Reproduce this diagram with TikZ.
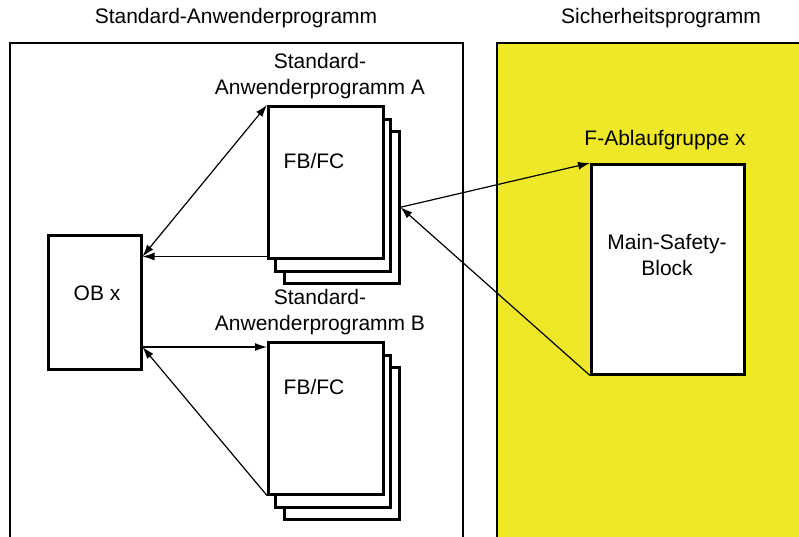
\documentclass[tikz,border=0pt]{standalone}
\usepackage{fontspec}
\setmainfont{Liberation Sans}
\usetikzlibrary{arrows.meta,calc}
\definecolor{sYellow}{RGB}{238,232,40}
\tikzset{
    page/.style={draw, line width=2.5pt, fill=white, inner sep=0pt, anchor=north west,
                 minimum width=115pt, minimum height=152pt},
    blk/.style={draw, line width=2.5pt, fill=white, inner sep=0pt, anchor=north west},
    lbl/.style={align=center, inner sep=0pt},
    conn/.style={line width=1.2pt, -{Latex[length=12pt,width=8pt]}},
    conn2/.style={line width=1.2pt, {Latex[length=12pt,width=8pt]}-{Latex[length=12pt,width=8pt]}}
}

\begin{document}
\begin{tikzpicture}[x=1pt,y=-1pt,font=\fontsize{21}{26}\selectfont]
\useasboundingbox (0,0) rectangle (799,536);
\clip (0,0) rectangle (799,536);
% the two programme areas
\fill[white] (0,0) rectangle (799,536);
\draw[line width=2.5pt] (10,43) rectangle (463,560);
\filldraw[fill=sYellow, line width=2.5pt] (497,43) rectangle (830,560);
\node[lbl] (ttlStd) at (236,18) {Standard-Anwenderprogramm};
\node[lbl] (ttlSaf) at (661,18) {Sicherheitsprogramm};
% OB
\node[blk, minimum width=93pt, minimum height=134pt] (obx) at (47,234) {};
\node[lbl] (obxTxt) at (97,293) {OB x};
% program A
\node[lbl] (lblA) at (320,76) {Standard-\\Anwenderprogramm A};
\node[page] (pA3) at (283,130) {};
\node[page] (pA2) at (274,118) {};
\node[page] (pA1) at (267,105) {};
\node[lbl] (fbA) at (314,161) {FB/FC};
% program B
\node[lbl] (lblB) at (320,312) {Standard-\\Anwenderprogramm B};
\node[page] (pB3) at (283,366) {};
\node[page] (pB2) at (274,354) {};
\node[page] (pB1) at (267,341) {};
\node[lbl] (fbB) at (314,387) {FB/FC};
% safety program
\node[lbl] (lblF) at (665,140) {F-Ablaufgruppe x};
\node[blk, minimum width=153pt, minimum height=210pt] (msb) at (590,163) {};
\node[lbl] (msbTxt) at (667,255) {Main-Safety-\\Block};
% connectors
\coordinate (pAout) at ($(pA1.south west)+(0,-3)$);
\coordinate (obA) at (obx.east |- pAout);
\coordinate (pBin) at ($(pB1.north west)+(0,6)$);
\coordinate (obB) at (obx.east |- pBin);
\draw[conn2] (obA) -- (pA1.north west);
\draw[conn] (pAout) -- (obA);
\draw[conn] (obB) -- (pBin);
\draw[conn] (pB1.south west) -- (obB);
\draw[conn] (pA3.east) -- (msb.north west);
\draw[conn] (msb.south west) -- (pA3.east);
\end{tikzpicture}
\end{document}
